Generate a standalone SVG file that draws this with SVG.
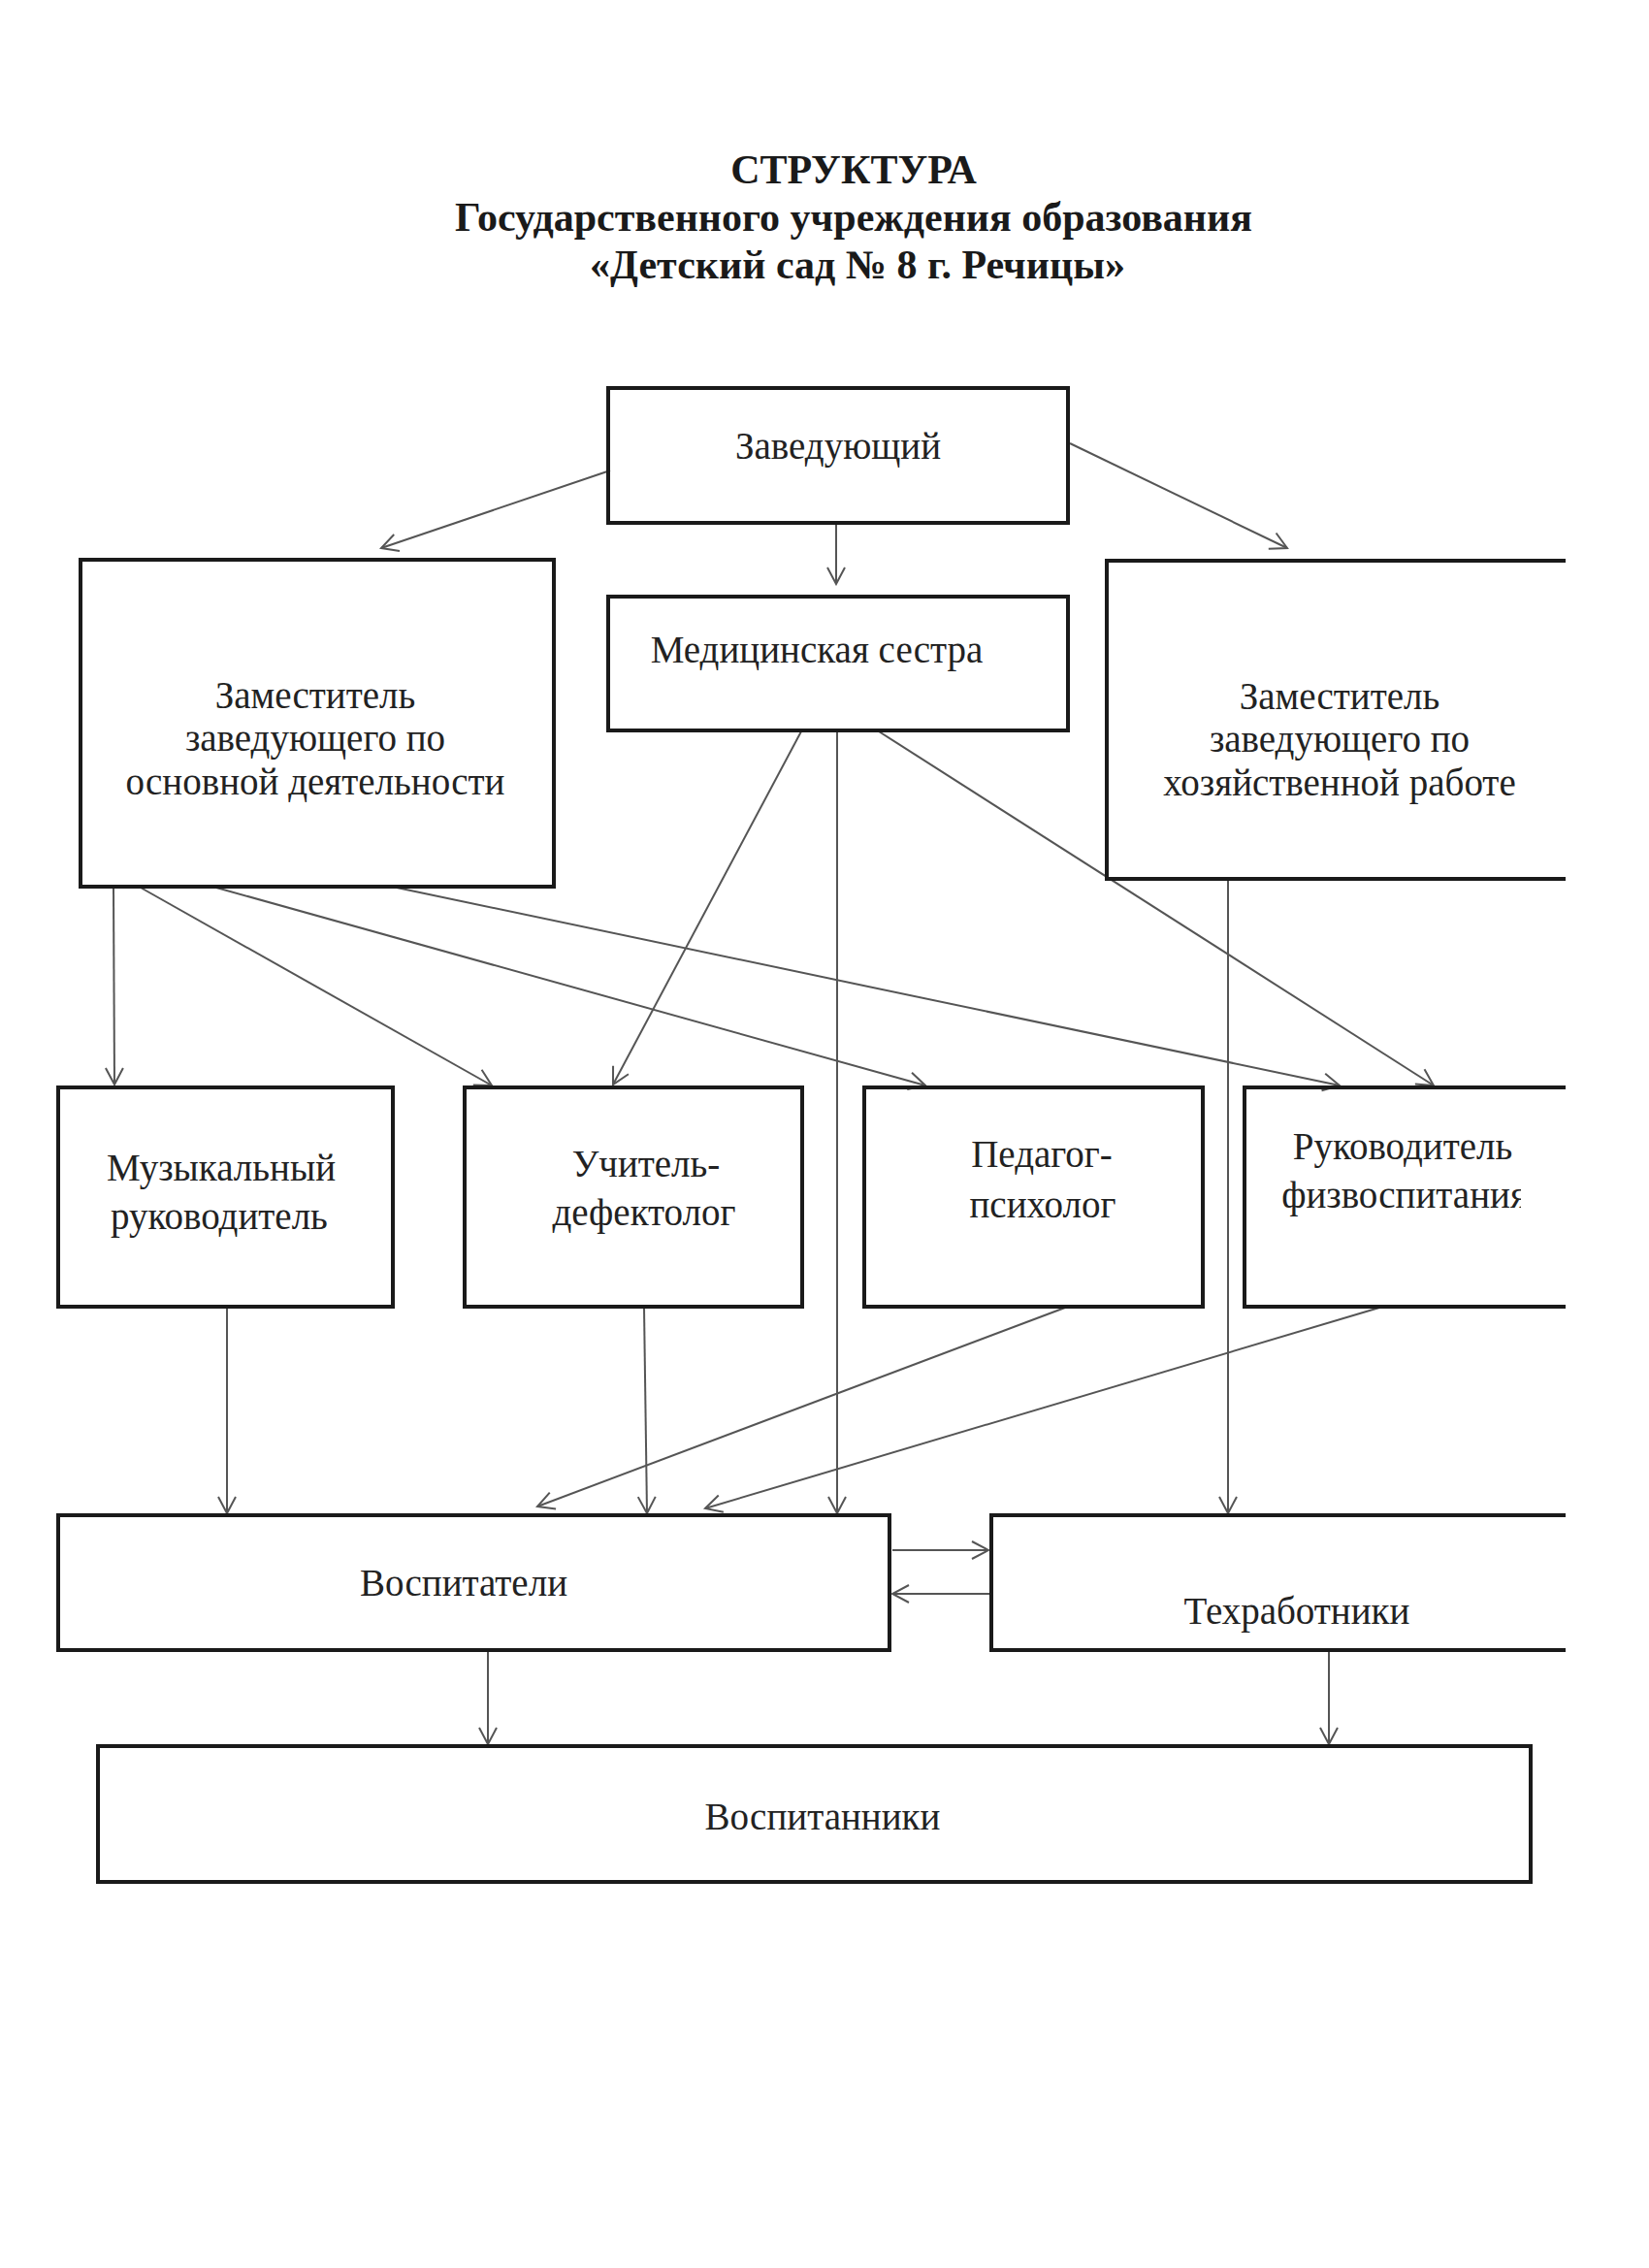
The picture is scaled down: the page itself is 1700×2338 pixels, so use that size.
<svg xmlns="http://www.w3.org/2000/svg" width="1700" height="2338" viewBox="0 0 1700 2338">
<style>
.bx{fill:none;stroke:#1a1a1a;stroke-width:4}
.t{font-family:"Liberation Serif","Times New Roman",serif;font-size:39px;fill:#222;text-anchor:middle}
.h{font-family:"Liberation Serif","Times New Roman",serif;font-size:42px;font-weight:bold;fill:#1a1a1a;text-anchor:middle}
.c{fill:none;stroke:#555;stroke-width:2;marker-end:url(#a)}
</style>
<defs>
<marker id="a" viewBox="-20 -12 22 24" refX="0" refY="0" markerWidth="22" markerHeight="24" markerUnits="userSpaceOnUse" orient="auto">
<path d="M-17,-9 L0,0 L-17,9" fill="none" stroke="#555" stroke-width="2"/>
</marker>
<clipPath id="edge"><rect x="0" y="0" width="1568" height="2338"/></clipPath>
</defs>
<rect width="1700" height="2338" fill="#fff"/>
<g id="title">
<text class="h" x="880" y="189">СТРУКТУРА</text>
<text class="h" x="880" y="238">Государственного учреждения образования</text>
<text class="h" x="884" y="287">«Детский сад № 8 г. Речицы»</text>
</g>
<g id="connectors">
<line class="c" x1="629" y1="485" x2="393" y2="565"/>
<line class="c" x1="862" y1="540" x2="862" y2="602"/>
<line class="c" x1="1103" y1="457" x2="1327" y2="565"/>
<line class="c" x1="117" y1="915" x2="118" y2="1118"/>
<line class="c" x1="145" y1="915" x2="507" y2="1119"/>
<line class="c" x1="223" y1="915" x2="954" y2="1119"/>
<line class="c" x1="409" y1="915" x2="1381" y2="1119"/>
<line class="c" x1="826" y1="754" x2="632" y2="1118"/>
<line class="c" x1="863" y1="754" x2="863" y2="1560"/>
<line class="c" x1="906" y1="754" x2="1478" y2="1119"/>
<line class="c" x1="1266" y1="907" x2="1266" y2="1560"/>
<line class="c" x1="234" y1="1348" x2="234" y2="1560"/>
<line class="c" x1="664" y1="1348" x2="667" y2="1560"/>
<line class="c" x1="1098" y1="1348" x2="554" y2="1553"/>
<line class="c" x1="1422" y1="1348" x2="727" y2="1555"/>
<line class="c" x1="920" y1="1598" x2="1019" y2="1598"/>
<line class="c" x1="1020" y1="1643" x2="920" y2="1643"/>
<line class="c" x1="503" y1="1702" x2="503" y2="1798"/>
<line class="c" x1="1370" y1="1702" x2="1370" y2="1798"/>
</g>
<g id="n-zaveduyushchiy">
<rect class="bx" x="627" y="400" width="474" height="139"/>
<text class="t" x="864" y="473">Заведующий</text>
</g>
<g id="n-medsestra">
<rect class="bx" x="627" y="615" width="474" height="138"/>
<text class="t" x="842" y="683">Медицинская сестра</text>
</g>
<g id="n-zam-osn">
<rect class="bx" x="83" y="577" width="488" height="337"/>
<text class="t" x="325" y="730">Заместитель</text>
<text class="t" x="325" y="774">заведующего по</text>
<text class="t" x="325" y="819">основной деятельности</text>
</g>
<g id="n-zam-hoz">
<path class="bx" d="M1614,578 H1141 V906 H1614"/>
<text class="t" x="1381" y="731">Заместитель</text>
<text class="t" x="1381" y="775">заведующего по</text>
<text class="t" x="1381" y="820">хозяйственной работе</text>
</g>
<g id="n-muz">
<rect class="bx" x="60" y="1121" width="345" height="226"/>
<text class="t" x="228" y="1217">Музыкальный</text>
<text class="t" x="226" y="1267">руководитель</text>
</g>
<g id="n-defektolog">
<rect class="bx" x="479" y="1121" width="348" height="226"/>
<text class="t" x="666" y="1213">Учитель-</text>
<text class="t" x="664" y="1263">дефектолог</text>
</g>
<g id="n-psiholog">
<rect class="bx" x="891" y="1121" width="349" height="226"/>
<text class="t" x="1074" y="1203">Педагог-</text>
<text class="t" x="1075" y="1255">психолог</text>
</g>
<g id="n-fizvosp">
<path class="bx" d="M1614,1121 H1283 V1347 H1614"/>
<g clip-path="url(#edge)">
<text class="t" x="1446" y="1195">Руководитель</text>
<text class="t" x="1448" y="1245">физвоспитания</text>
</g>
</g>
<g id="n-vospitateli">
<rect class="bx" x="60" y="1562" width="857" height="139"/>
<text class="t" x="478" y="1645">Воспитатели</text>
</g>
<g id="n-tehrabotniki">
<path class="bx" d="M1614,1562 H1022 V1701 H1614"/>
<text class="t" x="1337" y="1674">Техработники</text>
</g>
<g id="n-vospitanniki">
<rect class="bx" x="101" y="1800" width="1477" height="140"/>
<text class="t" x="848" y="1886">Воспитанники</text>
</g>
</svg>
